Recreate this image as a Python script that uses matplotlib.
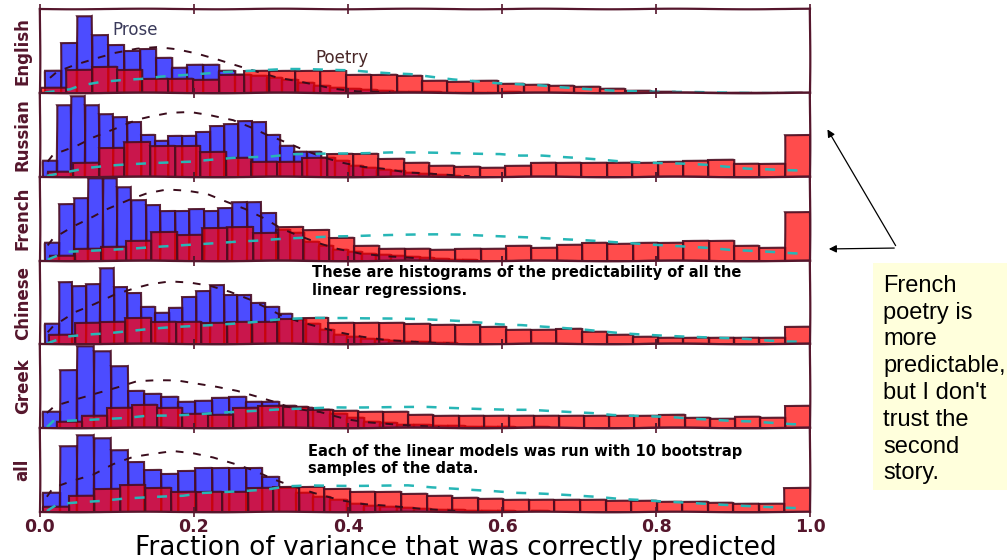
import numpy as np
import matplotlib
matplotlib.use('Agg')
import matplotlib.pyplot as plt
from matplotlib.patches import FancyArrowPatch, Rectangle

languages = ['English', 'Russian', 'French', 'Chinese', 'Greek', 'all']

# histogram heights, 30 bins per language (density, arbitrary units)
english_prose = [22, 49, 76, 57, 47, 41, 43, 35, 25, 28, 28, 22, 18, 17, 15, 13, 10, 7, 5, 4, 3, 2, 1, 1, 1, 0, 0, 0, 0, 1]
english_poetry = [5, 23, 26, 23, 14, 14, 13, 18, 22, 22, 22, 22, 18, 18, 17, 12, 11, 12, 9, 8, 7, 6, 4, 2, 1, 0.5, 0.3, 0.2, 0, 0]
russian_prose = [16, 71, 80, 71, 62, 59, 54, 41, 35, 40, 40, 44, 50, 52, 55, 54, 41, 30, 24, 24, 19, 16, 11, 9, 7, 6, 4, 3, 2, 1]
russian_poetry = [5, 14, 28, 34, 30, 30, 24, 19, 15, 15, 19, 23, 23, 18, 14, 11, 10, 9, 11, 14, 14, 14, 14, 14, 15, 16, 17, 13, 13, 41]
french_prose = [17, 56, 62, 81, 81, 73, 60, 55, 49, 49, 51, 49, 52, 58, 58, 47, 30, 27, 18, 14, 10, 9, 7, 6, 5, 4, 3, 2, 1, 1]
french_poetry = [5, 11, 13, 19, 28, 25, 32, 33, 27, 33, 30, 22, 14, 11, 11, 10, 11, 11, 14, 12, 15, 17, 16, 17, 17, 19, 19, 14, 12, 48]
chinese_prose = [20, 61, 58, 60, 75, 57, 51, 37, 31, 36, 47, 53, 59, 49, 49, 41, 37, 30, 24, 20, 14, 9, 7, 5, 4, 3, 2, 2, 1, 1]
chinese_poetry = [9, 21, 22, 26, 22, 22, 21, 22, 22, 25, 26, 21, 21, 21, 20, 19, 19, 17, 14, 14, 15, 12, 9, 7, 6, 6, 6, 6, 6, 17]
greek_prose = [16, 57, 81, 76, 61, 37, 34, 31, 26, 27, 30, 31, 26, 26, 22, 20, 18, 14, 10, 6, 5, 3, 3, 2, 2, 1, 1, 1, 0, 1]
greek_poetry = [6, 12, 20, 23, 20, 14, 13, 20, 22, 21, 18, 17, 16, 16, 13, 12, 12, 12, 12, 12, 12, 12, 12, 12, 13, 10, 9, 11, 10, 22]
all_prose = [19, 65, 76, 73, 61, 49, 41, 37, 40, 43, 43, 43, 43, 34, 24, 19, 15, 12, 8, 6, 5, 4, 3, 2, 2, 1, 1, 1, 0, 1]
all_poetry = [5, 16, 23, 27, 24, 20, 20, 20, 24, 25, 25, 23, 20, 20, 18, 16, 14, 13, 12, 12, 12, 12, 11, 11, 10, 10, 9, 8, 8, 24]

# data range covered by the 30 bins
prose_lo = [0.0065, 0.0043, 0.0065, 0.0065, 0.0043, 0.0043]
prose_hi = [0.623, 0.546, 0.568, 0.542, 0.661, 0.661]
poetry_lo = [0.001, 0.0104, 0.013, 0.012, 0.022, 0.004]
poetry_hi = [0.991, 1.0, 1.0, 1.0, 1.0, 1.0]

# fitted curves (dashed)
english_prose_fit_x = [0.013, 0.022, 0.045, 0.071, 0.097, 0.126, 0.152, 0.178, 0.204, 0.230, 0.253, 0.282, 0.308, 0.334, 0.355, 0.381, 0.412, 0.455]
english_prose_fit_y = [15, 21, 28, 34, 39.5, 43.5, 45, 43, 39, 33.5, 28, 21, 15, 11.5, 8.5, 4.5, 2, 1]
english_poetry_fit_x = [0.006, 0.039, 0.052, 0.078, 0.106, 0.132, 0.158, 0.186, 0.214, 0.238, 0.321, 0.347, 0.405, 0.429, 0.455, 0.481, 0.509, 0.536, 0.568, 0.594, 0.645, 0.671, 0.723, 0.753, 0.814, 0.883, 0.994]
english_poetry_fit_y = [0.5, 4, 7.7, 11, 12.7, 13.7, 16, 17.7, 19.4, 21, 23.4, 23.4, 22.7, 21, 19.4, 18.4, 15.7, 13.4, 11.7, 10, 7.7, 5.7, 3.4, 2.4, 1, 0.5, 0]

russian_prose_fit_x = [0.010, 0.017, 0.048, 0.069, 0.100, 0.126, 0.143, 0.169, 0.195, 0.221, 0.251, 0.273, 0.295, 0.322, 0.344, 0.370, 0.394, 0.419, 0.445, 0.477, 0.506, 0.558]
russian_prose_fit_y = [15, 22, 31, 39, 48, 56, 59, 63, 64, 61, 56, 49, 41, 33, 26, 19, 14, 10, 8, 4, 3, 1]
russian_poetry_fit_x = [0.009, 0.061, 0.087, 0.110, 0.139, 0.169, 0.195, 0.221, 0.251, 0.301, 0.329, 0.374, 0.455, 0.543, 0.597, 0.623, 0.652, 0.678, 0.704, 0.731, 0.757, 0.812, 0.838, 0.865, 0.892, 0.919, 0.945, 0.971, 0.997]
russian_poetry_fit_y = [1, 9, 11, 12, 13, 14, 15, 17, 19, 20, 22, 23, 24, 23.3, 22.7, 21, 20.7, 19.3, 18.3, 17, 15.3, 13.3, 12.7, 11.7, 10, 8.3, 7.7, 6.7, 6]

french_prose_fit_x = [0.010, 0.017, 0.043, 0.065, 0.088, 0.117, 0.139, 0.165, 0.191, 0.217, 0.243, 0.266, 0.292, 0.314, 0.338, 0.364, 0.386, 0.416, 0.451, 0.494]
french_prose_fit_y = [15, 22, 34, 42, 51, 60, 66, 70, 69, 66, 58, 51, 41, 31, 24, 17, 12, 7, 4, 2]
french_poetry_fit_x = [0.010, 0.035, 0.065, 0.091, 0.121, 0.165, 0.195, 0.256, 0.282, 0.303, 0.381, 0.432, 0.517, 0.548, 0.575, 0.604, 0.630, 0.658, 0.684, 0.710, 0.736, 0.770, 0.814, 0.844, 0.870, 0.896, 0.922, 0.948, 0.978, 0.997]
french_poetry_fit_y = [1, 9, 10, 10.7, 11.7, 14, 15.7, 19, 19.7, 20.7, 24, 25, 25.7, 25.7, 25, 24, 23, 21.7, 20.7, 20, 19, 17.3, 14.7, 13.3, 12.3, 10.7, 10, 9, 7.3, 6.5]

chinese_prose_fit_x = [0.010, 0.017, 0.045, 0.071, 0.097, 0.123, 0.143, 0.169, 0.195, 0.221, 0.247, 0.273, 0.296, 0.314, 0.338, 0.364, 0.390, 0.416, 0.451, 0.494, 0.532]
chinese_prose_fit_y = [12, 18, 32, 40, 49, 55, 59, 62, 61, 58, 52, 44, 35, 28, 22, 17, 12, 8, 4, 2, 1]
chinese_poetry_fit_x = [0.009, 0.035, 0.061, 0.087, 0.117, 0.143, 0.173, 0.217, 0.277, 0.303, 0.354, 0.400, 0.438, 0.481, 0.517, 0.549, 0.574, 0.597, 0.626, 0.652, 0.705, 0.756, 0.786, 0.814, 0.840, 0.887, 0.918, 0.948, 0.970, 0.997]
chinese_poetry_fit_y = [1, 8, 10, 11, 13, 15, 17, 19, 22, 24, 26, 26.3, 25.7, 25, 24, 23, 21.7, 20, 19, 17.3, 14.7, 11.3, 9.7, 8.3, 7.3, 6.3, 5.7, 4, 3, 2.5]

greek_prose_fit_x = [0.009, 0.019, 0.048, 0.071, 0.100, 0.126, 0.152, 0.178, 0.204, 0.230, 0.256, 0.282, 0.303, 0.329, 0.364, 0.399, 0.425, 0.468, 0.519]
greek_prose_fit_y = [15, 22, 29, 34, 40, 46, 47, 47, 44, 41, 37, 31, 26, 19, 16, 9, 6, 3, 1]
greek_poetry_fit_x = [0.009, 0.017, 0.048, 0.078, 0.113, 0.139, 0.173, 0.208, 0.234, 0.286, 0.312, 0.338, 0.364, 0.387, 0.419, 0.503, 0.529, 0.584, 0.610, 0.636, 0.662, 0.691, 0.717, 0.744, 0.795, 0.821, 0.848, 0.900, 0.922, 0.948, 0.977, 0.997]
greek_poetry_fit_y = [1, 7, 8, 9, 10, 12, 12.3, 14, 15.7, 17.3, 18.3, 19, 20, 20.7, 20.7, 20.7, 20, 19, 18.3, 18, 16.7, 15.7, 15, 13.3, 11.7, 10.7, 9, 7.3, 7, 5.7, 4, 3.5]

all_prose_fit_x = [0.009, 0.017, 0.042, 0.069, 0.095, 0.121, 0.147, 0.173, 0.199, 0.225, 0.251, 0.277, 0.303, 0.321, 0.355, 0.390, 0.419, 0.451, 0.494, 0.545]
all_prose_fit_y = [15, 24, 31, 37, 47, 54, 57, 60, 58, 54, 48, 41, 32, 27, 19, 12, 8, 6, 3, 1]
all_poetry_fit_x = [0.009, 0.023, 0.052, 0.078, 0.108, 0.134, 0.186, 0.212, 0.269, 0.295, 0.321, 0.351, 0.403, 0.442, 0.478, 0.509, 0.536, 0.587, 0.617, 0.647, 0.673, 0.699, 0.725, 0.756, 0.782, 0.812, 0.838, 0.861, 0.892, 0.922, 0.951, 0.977, 0.997]
all_poetry_fit_y = [1, 8, 10, 11, 13, 14, 16, 19, 21, 22, 25, 26, 26, 26, 26, 24, 23, 21, 19, 18, 17, 16, 15, 13, 12, 10, 9, 8, 7, 6, 5, 4, 3.5]

prose = [english_prose, russian_prose, french_prose, chinese_prose, greek_prose, all_prose]
poetry = [english_poetry, russian_poetry, french_poetry, chinese_poetry, greek_poetry, all_poetry]
prose_fit = [(english_prose_fit_x, english_prose_fit_y), (russian_prose_fit_x, russian_prose_fit_y),
             (french_prose_fit_x, french_prose_fit_y), (chinese_prose_fit_x, chinese_prose_fit_y),
             (greek_prose_fit_x, greek_prose_fit_y), (all_prose_fit_x, all_prose_fit_y)]
poetry_fit = [(english_poetry_fit_x, english_poetry_fit_y), (russian_poetry_fit_x, russian_poetry_fit_y),
              (french_poetry_fit_x, french_poetry_fit_y), (chinese_poetry_fit_x, chinese_poetry_fit_y),
              (greek_poetry_fit_x, greek_poetry_fit_y), (all_poetry_fit_x, all_poetry_fit_y)]

maroon = '#55162c'
edge = (0.29, 0.05, 0.13, 0.9)

with plt.xkcd(scale=0.3, length=150, randomness=2):
    plt.rcParams['path.effects'] = []
    plt.rcParams['font.family'] = ['DejaVu Sans']

    fig, axes = plt.subplots(6, 1, sharex=True, figsize=(10.07, 5.6), dpi=100)
    fig.subplots_adjust(left=0.0397, right=0.8044, bottom=0.0857, top=0.9834, hspace=0)

    for i, ax in enumerate(axes):
        edges = np.linspace(prose_lo[i], prose_hi[i], len(prose[i]) + 1)
        mids = (edges[:-1] + edges[1:]) / 2
        ax.hist(mids, bins=edges, weights=prose[i], color=(0, 0, 1, 0.7), edgecolor=edge, linewidth=1.5)

        edges = np.linspace(poetry_lo[i], poetry_hi[i], len(poetry[i]) + 1)
        mids = (edges[:-1] + edges[1:]) / 2
        ax.hist(mids, bins=edges, weights=poetry[i], color=(1, 0, 0, 0.7), edgecolor=edge, linewidth=1.5)

        ax.plot(prose_fit[i][0], prose_fit[i][1], color='#3a0c1c', lw=1.4, dashes=(4, 5))
        ax.plot(poetry_fit[i][0], poetry_fit[i][1], color='#27b6b6', lw=1.8, dashes=(4, 5))

        ax.set_xlim(0, 1)
        ax.set_ylim(0, 82.5)
        ax.set_yticks([])
        ax.set_ylabel(languages[i], fontsize=12, fontweight='bold', color=maroon, labelpad=6)
        for sp in ax.spines.values():
            sp.set_color(maroon)
            sp.set_linewidth(1.6)
        ax.set_xticks([0.0, 0.2, 0.4, 0.6, 0.8, 1.0])
        ax.tick_params(axis='x', direction='inout', length=7, width=1.2, colors=maroon,
                       top=True, labelsize=12.5, pad=1)

    for lab in axes[-1].get_xticklabels():
        lab.set_fontweight('bold')
    axes[-1].set_xlabel('Fraction of variance that was correctly predicted', fontsize=19)
    axes[-1].xaxis.set_label_coords(0.54, -0.27)

    axes[0].text(0.094, 62, 'Prose', fontsize=12, color='#3a3a5a', va='center')
    axes[0].text(0.357, 35, 'Poetry', fontsize=12, color='#4a2828', va='center')
    axes[3].text(0.353, 78, 'These are histograms of the predictability of all the\nlinear regressions.',
                 fontsize=10.5, fontweight='bold', va='top')
    axes[5].text(0.348, 67, 'Each of the linear models was run with 10 bootstrap\nsamples of the data.',
                 fontsize=10.5, fontweight='bold', va='top')

# note on the right
fig.add_artist(Rectangle((0.867, 0.125), 0.14, 0.405, transform=fig.transFigure,
                         facecolor='#ffffdc', edgecolor='none'))
fig.text(0.877, 0.509, "French\npoetry is\nmore\npredictable,\nbut I don't\ntrust the\nsecond\nstory.",
         fontsize=17, family='Liberation Sans', va='top', ha='left', linespacing=1.28)
for tip in [(0.8203, 0.7732), (0.8203, 0.5554)]:
    fig.add_artist(FancyArrowPatch((0.8908, 0.5571), tip, transform=fig.transFigure,
                                   arrowstyle='-|>', mutation_scale=11, lw=0.9, color='black'))

fig.savefig('out.png', dpi=100)
